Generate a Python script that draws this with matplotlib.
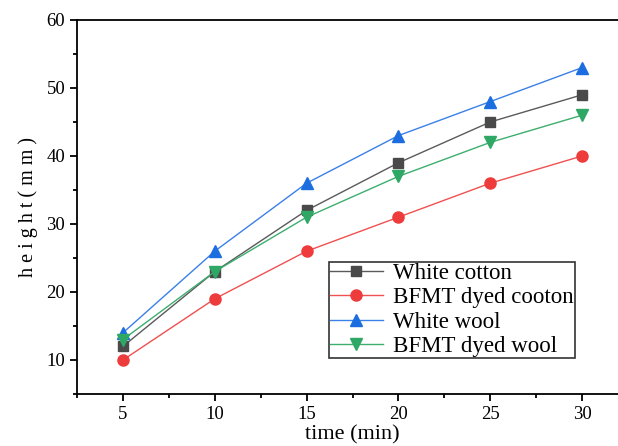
import matplotlib
matplotlib.use('Agg')
import matplotlib.pyplot as plt
from matplotlib.ticker import MultipleLocator

plt.rcParams['font.family'] = ['Liberation Serif', 'DejaVu Serif']

time_min = [5, 10, 15, 20, 25, 30]
white_cotton = [12, 23, 32, 39, 45, 49]
bfmt_cotton = [10, 19, 26, 31, 36, 40]
white_wool = [14, 26, 36, 43, 48, 53]
bfmt_wool = [13, 23, 31, 37, 42, 46]

fig = plt.figure(figsize=(6.18, 4.46), dpi=100)
ax = fig.add_axes([77/618, 52/446, 551/618, 374/446])

ax.plot(time_min, white_cotton, color='#5a5a5a', lw=1, marker='s', ms=7,
        mfc='#4a4a4a', mec='#4a4a4a', label='White cotton')
ax.plot(time_min, bfmt_cotton, color='#f05050', lw=1, marker='o', ms=8,
        mfc='#ee3b3b', mec='#ee3b3b', label='BFMT dyed cooton')
ax.plot(time_min, white_wool, color='#3a80e8', lw=1, marker='^', ms=8.5,
        mfc='#1c6ee0', mec='#1c6ee0', label='White wool')
ax.plot(time_min, bfmt_wool, color='#3cae6e', lw=1, marker='v', ms=8.5,
        mfc='#2fa865', mec='#2fa865', label='BFMT dyed wool')

ax.set_xlim(2.5, 32.5)
ax.set_ylim(5, 60)
ax.xaxis.set_major_locator(MultipleLocator(5))
ax.xaxis.set_minor_locator(MultipleLocator(2.5))
ax.yaxis.set_major_locator(MultipleLocator(10))
ax.yaxis.set_minor_locator(MultipleLocator(5))
ax.spines['right'].set_visible(False)
for s in ['left', 'bottom', 'top']:
    ax.spines[s].set_linewidth(1.3)
ax.tick_params(which='major', direction='out', length=5, width=1.3, labelsize=13.5)
ax.tick_params(which='minor', direction='out', length=3, width=1.3)
ax.tick_params(top=False, right=False, which='both')

ax.set_xlabel('time (min)', fontsize=16, labelpad=2)
ax.set_ylabel('h e i g h t ( m m )', fontsize=14.5, labelpad=6)

# legend box sits in the lower right, its right side inside the data area
leg = ax.legend(loc='lower left', bbox_to_anchor=(0.457, 0.096), borderaxespad=0,
                fontsize=16.5, frameon=True, fancybox=False, handlelength=2.3,
                handletextpad=0.45, labelspacing=0.14, borderpad=0.05)
leg.get_frame().set_edgecolor('black')
leg.get_frame().set_linewidth(1.2)

fig.savefig('out.png', dpi=100)
